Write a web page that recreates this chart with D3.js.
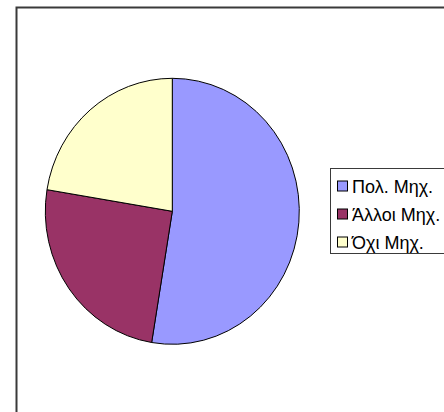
<!DOCTYPE html>
<html>
<head>
<meta charset="utf-8">
<script src="https://cdn.jsdelivr.net/npm/d3@7"></script>
<style>
	body { margin: 0; background: #fff; }
	svg { display: block; }
	.legend-labels { font-family: "Liberation Sans", Arial, sans-serif; font-size: 18px; fill: #000; }
</style>
</head>
<body>
<svg id="chart" width="444" height="412"></svg>
<script>
	// data
	var categories = ["Πολ. Μηχ.", "Άλλοι Μηχ.", "Όχι Μηχ."];
	var values = [52.6, 25.0, 22.4];
	var colors = ["#9999ff", "#993366", "#ffffcc"];

	var svg = d3.select("#chart");

	// chart frame (runs off the right and bottom edges)
	svg.append("rect")
		.attr("x", 16.5).attr("y", 7.5)
		.attr("width", 480).attr("height", 460)
		.style("fill", "#fff")
		.style("stroke", "#3a3a3a")
		.style("stroke-width", 2);

	var rx = 127, ry = 133;
	var color = d3.scaleOrdinal().domain(categories).range(colors);
	var pie = d3.pie().sort(null).value(function (d, i) { return values[i]; });
	var arc = d3.arc().innerRadius(0).outerRadius(rx);

	var g = svg.append("g")
		.attr("transform", "translate(172.3,211.3) scale(1," + (ry / rx) + ")");

	g.selectAll("path")
		.data(pie(categories)).enter()
		.append("path")
		.attr("d", arc)
		.attr("vector-effect", "non-scaling-stroke")
		.style("fill", function (d) { return color(d.data); })
		.style("stroke", "#000")
		.style("stroke-width", 1);

	// legend
	var legend = svg.append("g").attr("class", "legend");
	legend.append("rect")
		.attr("x", 330.5).attr("y", 168.5)
		.attr("width", 140).attr("height", 85)
		.style("fill", "#fff")
		.style("stroke", "#3a3a3a")
		.style("stroke-width", 1);

	var ly = d3.scalePoint().domain(categories).range([186, 242]);

	legend.selectAll("rect.swatch")
		.data(categories).enter()
		.append("rect")
		.attr("class", "swatch")
		.attr("x", 337.5)
		.attr("y", function (d) { return ly(d) - 5; })
		.attr("width", 10).attr("height", 10)
		.style("fill", function (d) { return color(d); })
		.style("stroke", "#000")
		.style("stroke-width", 1);

	legend.selectAll("text")
		.data(categories).enter()
		.append("text")
		.attr("class", "legend-labels")
		.attr("x", 352)
		.attr("y", function (d) { return ly(d) + 6.5; })
		.text(function (d) { return d; });
</script>
</body>
</html>
